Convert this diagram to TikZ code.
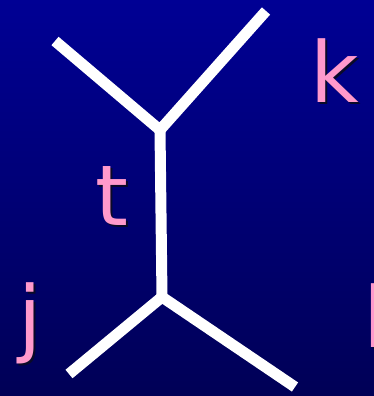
\documentclass[tikz,border=0pt]{standalone}
\usepackage{fontspec}
\usepackage{xcolor}
\setmainfont{DejaVu Sans}
\definecolor{slidetop}{RGB}{0,0,148}
\definecolor{slidebottom}{RGB}{0,0,86}
\definecolor{labelpink}{RGB}{255,153,204}
\definecolor{labelshade}{RGB}{10,10,40}

\begin{document}
\begin{tikzpicture}[
  x=1pt,
  y=-1pt,
  every node/.style={font=\fontsize{84}{84}\selectfont, inner sep=0pt},
  line/.style={white, line width=11pt, line cap=butt, line join=miter},
  lbl/.style={labelpink, anchor=base west},
  lblshade/.style={labelshade, anchor=base west, xshift=2pt, yshift=-2pt}
]
  % ---- background, fixes the page too -----------------------------------
  \useasboundingbox[top color=slidetop, bottom color=slidebottom]
    (0,0) rectangle (374,396);
  \shade[top color=slidetop, bottom color=slidebottom]
    (0,0) rectangle (374,396);

  % ---- vertices and outer ends -------------------------------------------
  \coordinate (vtop) at (160,130);
  \coordinate (vbot) at (162,297);
  \coordinate (inA) at (55,41);
  \coordinate (inB) at (266,11);
  \coordinate (outA) at (69,374);
  \coordinate (outB) at (295,387);

  % ---- the lines -----------------------------------------------------------
  \draw[line] (inA) -- (vtop) -- (inB);
  \draw[line] (vtop) -- (vbot);
  \draw[line] (outA) -- (vbot) -- (outB);

  % ---- labels, each with its shadow underneath ----------------------------
  \node[lblshade] (kshade) at (310.5,102) {k};
  \node[lbl] (klbl) at (310.5,102) {k};

  \node[lblshade] (tshade) at (95.7,225) {t};
  \node[lbl] (tlbl) at (95.7,225) {t};

  \node[lblshade] (jshade) at (18.5,346) {j};
  \node[lbl] (jlbl) at (18.5,346) {j};

  \node[lblshade] (lshade) at (363,347) {l};
  \node[lbl] (llbl) at (363,347) {l};
\end{tikzpicture}
\end{document}
